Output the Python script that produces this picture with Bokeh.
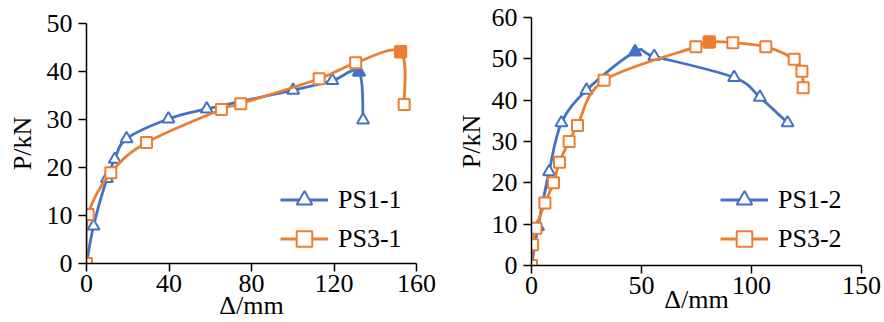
import numpy as np
from bokeh.plotting import figure
from bokeh.layouts import row, column
from bokeh.models import Legend, LegendItem, Range1d, FixedTicker
from bokeh.embed import file_html
from bokeh.resources import INLINE

# ---------------- data ----------------
ps1_1_x = [0, 3.4, 9.9, 13.7, 19.4, 39.7, 58.3, 100.2, 119.2, 132.1, 134.1]
ps1_1_y = [0, 7.8, 17.7, 21.7, 26.0, 30.1, 32.2, 36.1, 38.1, 39.9, 29.9]
ps3_1_x = [0, 0.8, 11.8, 29.1, 65.4, 74.8, 112.8, 130.5, 152.3, 154.0]
ps3_1_y = [0, 10.2, 18.9, 25.2, 32.1, 33.3, 38.5, 41.8, 44.1, 33.1]

ps1_2_x = [0, 3.0, 8.0, 13.6, 25.0, 47.1, 55.8, 92.1, 103.8, 116.4]
ps1_2_y = [0, 9.4, 22.7, 34.5, 42.4, 51.7, 50.6, 45.5, 40.7, 34.5]
ps3_2_x = [0, 0.5, 2.0, 6.1, 10.0, 12.7, 17.1, 20.9, 33.0, 74.7, 80.8, 91.5, 106.5, 119.4, 122.9, 123.5]
ps3_2_y = [0, 5.0, 9.0, 15.1, 20.0, 25.0, 30.0, 33.9, 44.8, 52.9, 54.1, 53.9, 52.9, 49.9, 47.0, 43.0]

left_xticks = [0, 40, 80, 120, 160]
left_yticks = [0, 10, 20, 30, 40, 50]
right_xticks = [0, 50, 100, 150]
right_yticks = [0, 10, 20, 30, 40, 50, 60]

BLUE = "#4472C4"
ORANGE = "#ED7D31"
FONT = "'Liberation Serif', 'Times New Roman', serif"
FS = "26px"


def smooth_segments(xs, ys):
    x = np.asarray(xs, float)
    y = np.asarray(ys, float)
    n = len(x)
    xp = np.concatenate([[x[0]], x, [x[-1]]])
    yp = np.concatenate([[y[0]], y, [y[-1]]])
    x0, y0, x1, y1 = x[:-1], y[:-1], x[1:], y[1:]
    cx0 = x0 + (xp[2:n + 1] - xp[0:n - 1]) / 6.0
    cy0 = y0 + (yp[2:n + 1] - yp[0:n - 1]) / 6.0
    cx1 = x1 - (xp[3:n + 2] - xp[1:n]) / 6.0
    cy1 = y1 - (yp[3:n + 2] - yp[1:n]) / 6.0
    return dict(x0=x0, y0=y0, x1=x1, y1=y1, cx0=cx0, cy0=cy0, cx1=cx1, cy1=cy1)


def make_panel(xr, yr, xt, yt, series, mb, legend_loc, xstand, ystand):
    p = figure(width=442, height=322, output_backend="svg", toolbar_location=None,
               x_range=Range1d(*xr), y_range=Range1d(*yr),
               min_border_left=mb[0], min_border_right=mb[1],
               min_border_top=mb[2], min_border_bottom=mb[3])
    p.outline_line_color = None
    p.grid.visible = False
    for ax, ticks in ((p.xaxis, xt), (p.yaxis, yt)):
        ax.ticker = FixedTicker(ticks=ticks)
        ax.minor_tick_line_color = None
        ax.major_tick_in = 0
        ax.major_tick_out = 8
        ax.axis_line_width = 1.5
        ax.major_tick_line_width = 1.5
        ax.axis_line_color = "black"
        ax.major_tick_line_color = "black"
        ax.major_label_text_font = FONT
        ax.major_label_text_font_size = FS
        ax.major_label_text_color = "black"
        ax.axis_label_text_font = FONT
        ax.axis_label_text_font_size = FS
        ax.axis_label_text_font_style = "normal"
        ax.axis_label_text_color = "black"
    p.xaxis.major_label_standoff = 3
    p.yaxis.major_label_standoff = 6
    p.xaxis.axis_label = "Δ/mm"
    p.yaxis.axis_label = "P/kN"
    p.xaxis.axis_label_standoff = xstand
    p.yaxis.axis_label_standoff = ystand

    items = []
    for name, xs, ys, color, marker, msize in series:
        seg = smooth_segments(xs, ys)
        curve = p.bezier(line_color=color, line_width=2.8, **seg)
        sc = p.scatter(xs, ys, marker=marker, size=msize, line_color=color,
                       line_width=2, fill_color="white")
        k = int(np.argmax(ys))
        p.scatter([xs[k]], [ys[k]], marker=marker, size=msize, line_color=color,
                  line_width=2, fill_color=color)
        items.append(LegendItem(label=name, renderers=[curve, sc]))

    leg = Legend(items=items, location=legend_loc, orientation="vertical",
                 background_fill_alpha=0, border_line_color=None,
                 padding=0, margin=0, spacing=0,
                 glyph_width=48, glyph_height=39, label_height=39,
                 label_standoff=10, label_text_font=FONT,
                 label_text_font_size=FS, label_text_color="black")
    p.add_layout(leg)
    return p


p1 = make_panel((0, 160), (0, 50), left_xticks, left_yticks,
                [("PS1-1", ps1_1_x, ps1_1_y, BLUE, "triangle", 12),
                 ("PS3-1", ps3_1_x, ps3_1_y, ORANGE, "square", 11)],
                (86, 26, 23, 59), (194, 5), -4, 7)
p2 = make_panel((0, 150), (0, 60), right_xticks, right_yticks,
                [("PS1-2", ps1_2_x, ps1_2_y, BLUE, "triangle", 12),
                 ("PS3-2", ps3_2_x, ps3_2_y, ORANGE, "square", 11)],
                (89, 23, 17, 57), (189, 7), -12, 3)

layout = row(column(p1), column(p2))
open("out.html", "w").write(file_html(layout, INLINE))
